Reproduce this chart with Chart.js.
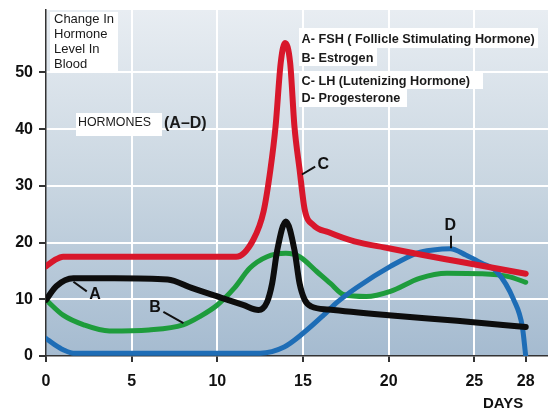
<!DOCTYPE html>
<html>
<head>
<meta charset="utf-8">
<script src="https://cdn.jsdelivr.net/npm/chart.js@4.4.1/dist/chart.umd.min.js"></script>
<style>
    html, body { margin: 0; padding: 0; background: #fff; }
    #wrap { width: 548px; height: 410px; }
</style>
</head>
<body>
<div id="wrap"><canvas id="grafico"></canvas></div>
<script>
// Hormone levels across the cycle (day, level)
const daysLH = [0, 0.5, 1, 3, 6, 9, 11.1, 12.1, 12.7, 13.1, 13.4, 13.7, 13.95, 14.25, 14.5, 14.8, 15.1, 15.6, 16.5, 18, 20, 22, 24, 26, 28];
const levelLH = [15.8, 16.9, 17.5, 17.5, 17.5, 17.5, 17.5, 20.5, 25.5, 32.9, 40.5, 51.7, 55.2, 51.7, 40.5, 32.9, 25.8, 23.1, 21.8, 20.2, 19.0, 17.8, 16.7, 15.6, 14.5];

const daysFSH = [0, 0.6, 1.6, 4, 7.1, 8.5, 10.2, 11.5, 12.4, 12.9, 13.2, 13.5, 14.0, 14.5, 14.8, 15.1, 15.5, 16.5, 20, 24, 28];
const levelFSH = [9.9, 12.3, 13.7, 13.7, 13.5, 12.0, 10.3, 9.0, 8.1, 9.5, 12.8, 18.7, 23.7, 18.7, 12.8, 9.9, 8.7, 8.2, 7.2, 6.2, 5.1];

const daysEstrogen = [0, 1, 2.2, 3.7, 6, 8, 9, 10, 11, 11.9, 12.9, 14.0, 14.8, 15.8, 16.6, 17.4, 18.7, 20.1, 21.8, 23.4, 25.4, 27, 28];
const levelEstrogen = [9.9, 7.2, 5.5, 4.4, 4.6, 5.5, 7.0, 9.0, 12.0, 15.5, 17.5, 18.1, 17.5, 14.9, 12.8, 10.8, 10.5, 11.4, 13.7, 14.6, 14.5, 14.0, 13.0];

const daysProg = [0, 0.5, 1, 1.6, 5, 10, 12.5, 13.9, 15.0, 16.2, 17, 18.1, 20.1, 21.7, 22.6, 23.6, 24.5, 25.4, 26.3, 27.3, 27.8, 28];
const levelProg = [3.1, 2.0, 1.1, 0.5, 0.5, 0.5, 0.5, 1.6, 4.0, 7.2, 9.5, 12.0, 15.8, 18.2, 18.7, 18.9, 17.8, 16.4, 14.9, 9.9, 5.2, 0];

const tickDays = [0, 5, 10, 15, 20, 25, 28];
const tickLevels = [0, 10, 20, 30, 40, 50];

const legendLines = [
    'A- FSH ( Follicle Stimulating Hormone)',
    'B- Estrogen',
    'C- LH (Lutenizing Hormone)',
    'D- Progesterone'
];
const yTitleLines = ['Change In', 'Hormone', 'Level In', 'Blood'];

function points(xs, ys) {
    return xs.map((x, i) => ({ x: x, y: ys[i] }));
}

const FONT = '"Liberation Sans", Arial, sans-serif';

// background of the plot
const background = {
    id: 'background',
    beforeDraw(chart) {
        const { ctx, chartArea: a } = chart;
        ctx.save();
        ctx.fillStyle = '#fff';
        ctx.fillRect(0, 0, chart.width, chart.height);
        const g = ctx.createLinearGradient(0, a.top, 0, a.bottom);
        g.addColorStop(0, '#e8edf2');
        g.addColorStop(0.5, '#c9d6e1');
        g.addColorStop(1, '#a5bbd0');
        ctx.fillStyle = g;
        ctx.fillRect(a.left, a.top, a.right - a.left, a.bottom - a.top);
        ctx.restore();
    }
};

// texts, boxes and curve labels
const notes = {
    id: 'notes',
    afterDraw(chart) {
        const { ctx } = chart;
        const sx = chart.scales.x, sy = chart.scales.y;
        const px = v => sx.getPixelForValue(v);
        const py = v => sy.getPixelForValue(v);
        ctx.save();
        ctx.textBaseline = 'alphabetic';
        ctx.textAlign = 'left';

        // y title box
        ctx.fillStyle = '#fff';
        ctx.fillRect(50, 12, 68, 60);
        ctx.fillStyle = '#1a1a1a';
        ctx.font = '13px ' + FONT;
        yTitleLines.forEach((t, i) => ctx.fillText(t, 54, 23 + i * 15));

        // HORMONES (A-D)
        ctx.fillStyle = '#fff';
        ctx.fillRect(76, 113, 86, 23);
        ctx.fillStyle = '#1a1a1a';
        ctx.font = '12.4px ' + FONT;
        ctx.fillText('HORMONES', 78, 126);
        ctx.font = 'bold 16px ' + FONT;
        ctx.fillText('(A\u2013D)', 164, 128);

        // legend boxes
        const boxes = [[299, 28, 239, 20], [299, 48, 78, 18], [299, 72, 184, 17], [299, 89, 108, 18]];
        const bases = [42.7, 61.7, 85, 101.7];
        ctx.font = 'bold 12.7px ' + FONT;
        legendLines.forEach((t, i) => {
            const b = boxes[i];
            ctx.fillStyle = '#fff';
            ctx.fillRect(b[0], b[1], b[2], b[3]);
            ctx.fillStyle = '#1a1a1a';
            ctx.fillText(t, 301.5, bases[i]);
        });

        // curve labels with leader lines
        const labels = [
            ['A', 2.86, 10.8, [1.6, 13.1], [2.38, 11.4]],
            ['B', 6.37, 8.5, [6.85, 7.8], [8.02, 5.8]],
            ['C', 16.18, 33.7, [14.94, 32.0], [15.71, 33.4]],
            ['D', 23.6, 23.0, [23.64, 21.2], [23.64, 19.0]]
        ];
        ctx.strokeStyle = '#111';
        ctx.lineWidth = 2;
        ctx.fillStyle = '#111';
        ctx.font = 'bold 16px ' + FONT;
        ctx.textAlign = 'center';
        ctx.textBaseline = 'middle';
        labels.forEach(l => {
            ctx.beginPath();
            ctx.moveTo(px(l[3][0]), py(l[3][1]));
            ctx.lineTo(px(l[4][0]), py(l[4][1]));
            ctx.stroke();
            ctx.fillText(l[0], px(l[1]), py(l[2]));
        });

        // DAYS
        ctx.textAlign = 'left';
        ctx.textBaseline = 'alphabetic';
        ctx.font = 'bold 15px ' + FONT;
        ctx.fillText('DAYS', 483, 408);
        ctx.restore();
    }
};

const ctx = document.getElementById('grafico').getContext('2d');
new Chart(ctx, {
    type: 'line',
    data: {
        datasets: [
            { label: 'LH', data: points(daysLH, levelLH), borderColor: '#d8172b', borderWidth: 6 },
            { label: 'FSH', data: points(daysFSH, levelFSH), borderColor: '#0d0d0d', borderWidth: 6 },
            { label: 'Progesterone', data: points(daysProg, levelProg), borderColor: '#1e6db6', borderWidth: 5 },
            { label: 'Estrogen', data: points(daysEstrogen, levelEstrogen), borderColor: '#1e9c3c', borderWidth: 5 }
        ]
    },
    options: {
        responsive: true,
        maintainAspectRatio: false,
        animation: false,
        layout: { padding: { top: 10, right: 0, left: 0, bottom: 0 } },
        elements: {
            point: { radius: 0 },
            line: { cubicInterpolationMode: 'monotone', borderCapStyle: 'round', borderJoinStyle: 'round', fill: false }
        },
        plugins: {
            legend: { display: false },
            tooltip: { enabled: false }
        },
        scales: {
            x: {
                type: 'linear',
                min: 0,
                max: 29.3,
                afterBuildTicks: s => { s.ticks = tickDays.map(v => ({ value: v })); },
                afterFit: s => { s.height = 54; s.paddingLeft = 0; s.paddingRight = 0; },
                grid: {
                    color: c => (c.tick && c.tick.value % 5 === 0 && c.tick.value !== 0) ? '#ffffff' : 'rgba(0,0,0,0)',
                    lineWidth: 2,
                    tickColor: '#333',
                    tickLength: 6
                },
                border: { color: '#333', width: 1.5 },
                ticks: {
                    color: '#111',
                    padding: 10,
                    maxRotation: 0,
                    autoSkip: false,
                    font: { family: FONT, size: 16, weight: 'bold' }
                }
            },
            y: {
                min: 0,
                max: 61,
                afterBuildTicks: s => { s.ticks = tickLevels.map(v => ({ value: v })); },
                afterFit: s => { s.width = 46; s.paddingTop = 0; s.paddingBottom = 0; },
                grid: {
                    color: c => (c.tick && c.tick.value !== 0) ? '#ffffff' : 'rgba(0,0,0,0)',
                    lineWidth: 2,
                    tickColor: '#333',
                    tickLength: 7
                },
                border: { color: '#333', width: 1.5 },
                ticks: {
                    color: '#111',
                    padding: 6,
                    font: { family: FONT, size: 16, weight: 'bold' }
                }
            }
        }
    },
    plugins: [background, notes]
});
</script>
</body>
</html>
